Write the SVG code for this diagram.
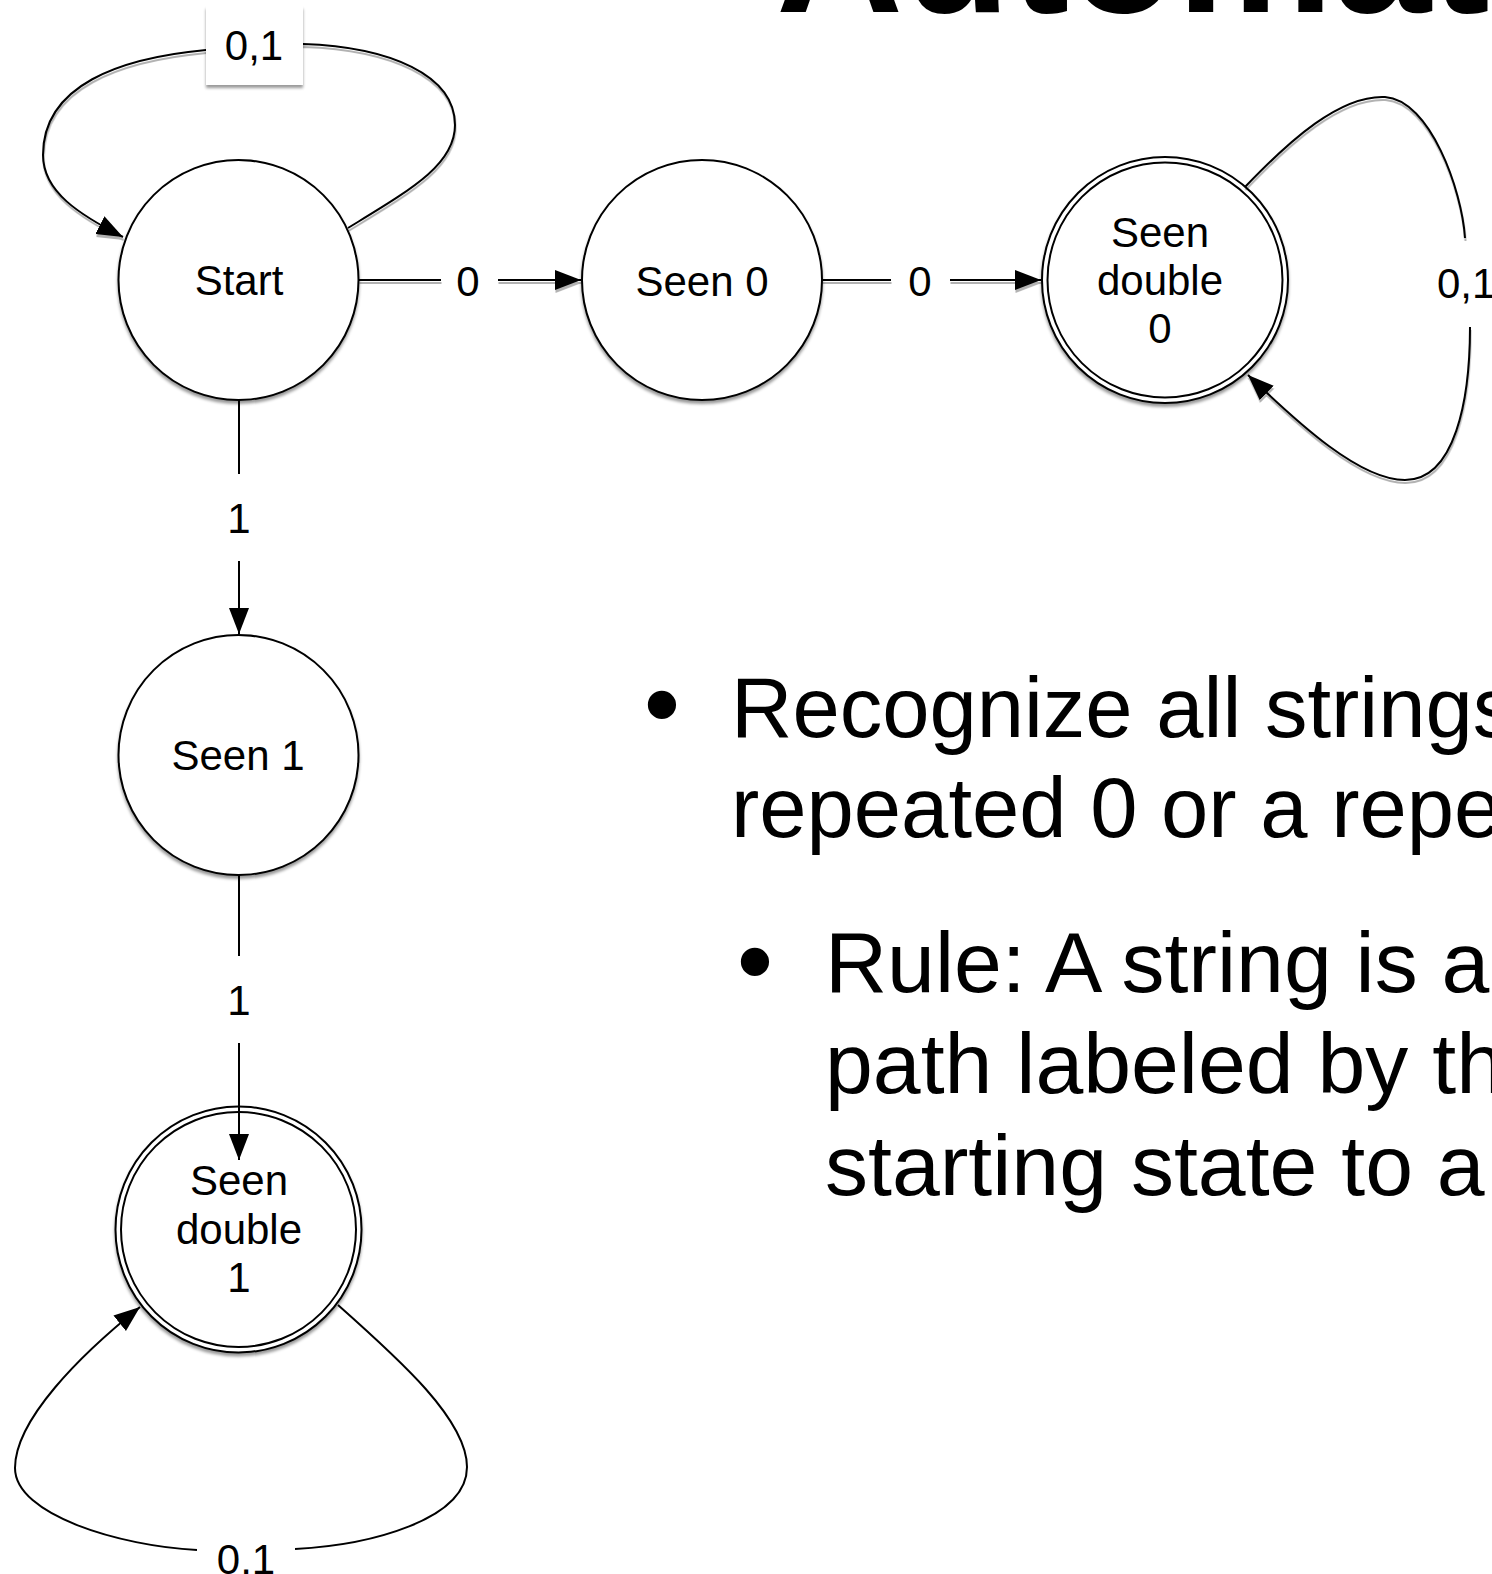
<svg xmlns="http://www.w3.org/2000/svg" width="1492" height="1574" viewBox="0 0 1492 1574">
  <defs>
    <filter id="sh" filterUnits="userSpaceOnUse" x="0" y="0" width="1492" height="1574">
      <feDropShadow dx="0" dy="3" stdDeviation="1.8" flood-color="#000" flood-opacity="0.4"/>
    </filter>
    <filter id="shl" filterUnits="userSpaceOnUse" x="0" y="0" width="1492" height="1574">
      <feDropShadow dx="0.5" dy="3" stdDeviation="0.6" flood-color="#000" flood-opacity="0.3"/>
    </filter>
    <marker id="arr" markerUnits="userSpaceOnUse" markerWidth="28" markerHeight="22" refX="26" refY="10" orient="auto">
      <path d="M0,0 L26,10 L0,20 z" fill="#000"/>
    </marker>
    <style>
      .node { fill: #fff; stroke: #000; stroke-width: 2; }
      .lbl { font-family: "Liberation Sans", Arial, Helvetica, sans-serif; font-size: 42px; fill: #000; text-anchor: middle; }
      .edge { fill: none; stroke: #000; stroke-width: 2; }
      .body { font-family: "Liberation Sans", Arial, Helvetica, sans-serif; font-size: 85px; fill: #000; }
      .sub { font-size: 86px; }
      .title { font-family: "Liberation Sans", Arial, Helvetica, sans-serif; font-size: 176px; font-weight: bold; fill: #000; }
    </style>
  </defs>
  <rect width="1492" height="1574" fill="#fff"/>

  <text class="title" x="776" y="12">Automat</text>

  <g id="start">
    <circle class="node" cx="238.5" cy="280" r="120" filter="url(#sh)"/>
    <text class="lbl" x="239" y="295">Start</text>
  </g>

  <g id="seen0">
    <circle class="node" cx="702" cy="280" r="120" filter="url(#sh)"/>
    <text class="lbl" x="702" y="296">Seen 0</text>
  </g>

  <g id="seendouble0">
    <circle class="node" cx="1165" cy="280" r="123" filter="url(#sh)"/>
    <circle class="node" cx="1165" cy="280" r="117.5"/>
    <text class="lbl" x="1160" y="247">Seen</text>
    <text class="lbl" x="1160" y="295">double</text>
    <text class="lbl" x="1160" y="343">0</text>
  </g>

  <g id="seen1">
    <circle class="node" cx="238.5" cy="755" r="120" filter="url(#sh)"/>
    <text class="lbl" x="238" y="770">Seen 1</text>
  </g>

  <g id="seendouble1">
    <circle class="node" cx="238.5" cy="1229.5" r="123" filter="url(#sh)"/>
    <circle class="node" cx="238.5" cy="1229.5" r="117.5"/>
    <text class="lbl" x="239" y="1195">Seen</text>
    <text class="lbl" x="239" y="1244">double</text>
    <text class="lbl" x="239" y="1292">1</text>
  </g>

  <g id="connectors">
    <!-- Start self-loop -->
    <g filter="url(#shl)">
      <path class="edge" d="M348,228 C410,190 455,165 455,125 C455,75 390,47 303,44 L206,50 C120,58 43,85 43,155 C43,192 80,215 123,237" marker-end="url(#arr)"/>
    </g>
    <g id="lbl-start-loop">
      <rect x="206" y="6" width="97" height="79" fill="#fff" filter="url(#sh)"/>
      <text class="lbl" x="254" y="60">0,1</text>
    </g>
    <!-- Start -> Seen 0 -->
    <g filter="url(#shl)">
      <path class="edge" d="M359,280 L441,280"/>
      <path class="edge" d="M498,280 L581,280" marker-end="url(#arr)"/>
    </g>
    <text class="lbl" x="468" y="296">0</text>
    <!-- Seen 0 -> Seen double 0 -->
    <g filter="url(#shl)">
      <path class="edge" d="M822,280 L891,280"/>
      <path class="edge" d="M950,280 L1041,280" marker-end="url(#arr)"/>
    </g>
    <text class="lbl" x="920" y="296">0</text>
    <!-- Seen double 0 self-loop -->
    <g filter="url(#shl)">
      <path class="edge" d="M1245,187 C1290,140 1340,95 1385,97 C1430,100 1462,190 1465,238"/>
      <path class="edge" d="M1470,327 C1470,400 1455,480 1405,480 C1360,480 1300,425 1248,375" marker-end="url(#arr)"/>
    </g>
    <text class="lbl" x="1437" y="298" style="text-anchor:start">0,1</text>
    <!-- Start -> Seen 1 -->
    <path class="edge" d="M239,399 L239,474"/>
    <path class="edge" d="M239,561 L239,634" marker-end="url(#arr)"/>
    <text class="lbl" x="239" y="533">1</text>
    <!-- Seen 1 -> Seen double 1 -->
    <path class="edge" d="M239,875 L239,956"/>
    <path class="edge" d="M239,1043 L239,1160" marker-end="url(#arr)"/>
    <text class="lbl" x="239" y="1015">1</text>
    <!-- Seen double 1 self-loop -->
    <path class="edge" d="M338,1305 C400,1360 467,1420 467,1467 C467,1520 370,1545 295,1549"/>
    <path class="edge" d="M197,1550 C120,1546 15,1515 15,1468 C15,1420 80,1355 140,1307" marker-end="url(#arr)"/>
    <text class="lbl" x="246" y="1574">0,1</text>
  </g>

  <g id="bullets">
    <text class="body" x="662" y="739" style="font-size:104px;text-anchor:middle">•</text>
    <text class="body" x="731" y="737">Recognize all strings</text>
    <text class="body" x="731" y="837">repeated 0 or a repe</text>
    <text class="body" x="755" y="996" style="font-size:104px;text-anchor:middle">•</text>
    <text class="body sub" x="825" y="992">Rule: A string is a</text>
    <text class="body sub" x="825" y="1093">path labeled by th</text>
    <text class="body sub" x="825" y="1195">starting state to a</text>
  </g>
</svg>
